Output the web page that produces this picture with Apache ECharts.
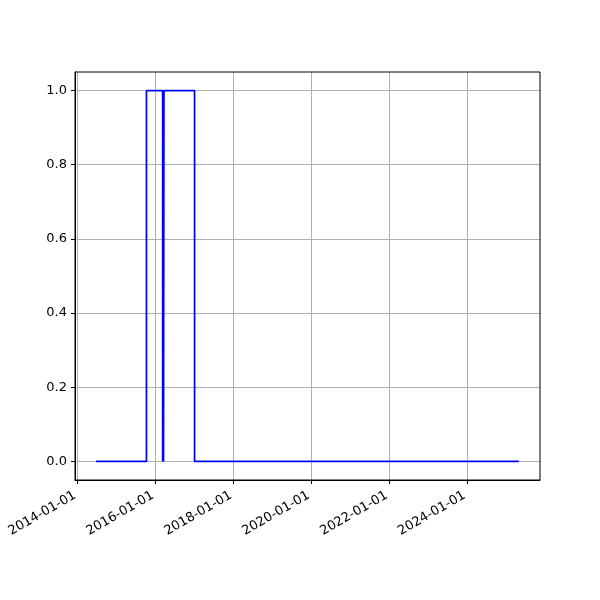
<!DOCTYPE html>
<html><head><meta charset="utf-8">
<script src="https://cdn.jsdelivr.net/npm/echarts@6/dist/echarts.min.js"></script>
<style>html,body{margin:0;padding:0;background:#fff}#c{width:600px;height:600px}</style>
</head><body><div id="c"></div>
<script>
var dates = ['2014-06-23','2015-10-08','2016-03-08','2016-03-12','2016-03-16','2016-03-20','2017-01-01','2025-04-30'];
var values = [0,1,0,1,0,1,0,0];
var xTicks = ['2014-01-01','2016-01-01','2018-01-01','2020-01-01','2022-01-01','2024-01-01'];
var yTicks = [0,0.2,0.4,0.6,0.8,1.0];
var xMin = '2013-12-07', xMax = '2025-11-14';

function ts(s){ return new Date(s + 'T00:00:00Z').getTime(); }
function pad(n){ return (n<10?'0':'')+n; }
function fmt(v){ var d=new Date(v); return d.getUTCFullYear()+'-'+pad(d.getUTCMonth()+1)+'-'+pad(d.getUTCDate()); }

var chart = echarts.init(document.getElementById('c'));
chart.setOption({
  animation:false,
  grid:{left:75,right:60,top:72,bottom:120,containLabel:false,show:false},
  xAxis:{
    type:'value', min:ts(xMin), max:ts(xMax),
    axisLine:{show:true,onZero:false,lineStyle:{color:'#000',width:1}},
    axisTick:{show:true,inside:false,length:4,lineStyle:{color:'#000'},customValues:xTicks.map(ts)},
    axisLabel:{rotate:30,fontSize:13,color:'#000',fontFamily:'DejaVu Sans',margin:13,padding:[0,3,0,0],
      customValues:xTicks.map(ts),formatter:function(v){return fmt(v);}},
    splitLine:{show:true,lineStyle:{color:'#b0b0b0',width:1}}
  },
  yAxis:{
    type:'value', min:-0.05, max:1.05,
    axisLine:{show:true,onZero:false,lineStyle:{color:'#000',width:1}},
    axisTick:{show:true,inside:false,length:4,lineStyle:{color:'#000'},customValues:yTicks},
    axisLabel:{fontSize:13,color:'#000',fontFamily:'DejaVu Sans',margin:8,customValues:yTicks,
      formatter:function(v){return v.toFixed(1);}},
    splitLine:{show:true,lineStyle:{color:'#b0b0b0',width:1}}
  },
  series:[{
    type:'line', step:'end', showSymbol:false,
    lineStyle:{color:'#0000ff',width:1.7},
    data: dates.map(function(d,i){return [ts(d), values[i]];})
  }],
  graphic:[{type:'rect',shape:{x:75,y:72,width:465,height:408},style:{fill:'none',stroke:'#000',lineWidth:1},silent:true,z:100}]
});
</script></body></html>
